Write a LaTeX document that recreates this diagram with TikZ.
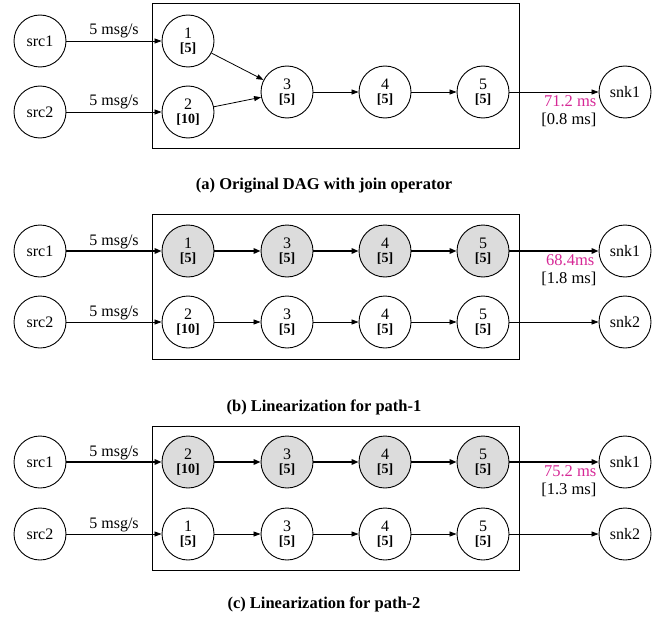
\documentclass[tikz,border=0pt]{standalone}
\usepackage{fontspec}
\setmainfont{Liberation Serif}
\usetikzlibrary{arrows.meta}
\definecolor{latpink}{RGB}{214,40,150}
\definecolor{hotgray}{RGB}{220,220,220}
\newcommand{\opl}[2]{#1\\{\fontsize{14}{14}\selectfont\bfseries [#2]}}
\begin{document}
\begin{tikzpicture}[x=1pt,y=-1pt,
 every node/.style={inner sep=0pt},
 circ/.style={circle,draw,line width=0.9pt,minimum size=52pt,font=\fontsize{16}{13.5}\selectfont,align=center},
 hot/.style={fill=hotgray},
 tedge/.style={line width=0.8pt,-{Triangle[length=7pt,width=5pt]}},
 kedge/.style={line width=1.6pt,-{Triangle[length=7pt,width=5.5pt]}},
 rate/.style={font=\fontsize{16}{16}\selectfont,anchor=base},
 lat/.style={font=\fontsize{16.5}{16.5}\selectfont,anchor=base east},
 frame/.style={draw,line width=0.9pt},
 captext/.style={font=\fontsize{16.5}{16.5}\selectfont\bfseries}
]
\useasboundingbox (0,0) rectangle (668,623);

% ---------- (a)
\draw[frame] (152,3) rectangle (519,148);
\node[circ] (as1) at (40,41) {src1};
\node[circ] (as2) at (40,112) {src2};
\node[circ] (a1) at (188,41) {\opl{1}{5}};
\node[circ] (a2) at (188,112) {\opl{2}{10}};
\node[circ] (a3) at (287,92) {\opl{3}{5}};
\node[circ] (a4) at (385,92) {\opl{4}{5}};
\node[circ] (a5) at (483,92) {\opl{5}{5}};
\node[circ] (ak1) at (625,92) {snk1};
\draw[tedge] (as1) -- (a1);
\draw[tedge] (as2) -- (a2);
\draw[tedge] (a1) -- (a3);
\draw[tedge] (a2) -- (a3);
\draw[tedge] (a3) -- (a4);
\draw[tedge] (a4) -- (a5);
\draw[tedge] (a5) -- (ak1);
\node[rate] (ar1) at (114,35) {5 msg/s};
\node[rate] (ar2) at (114,106) {5 msg/s};
\node[lat,text=latpink] (al1) at ([shift={(-2,14.5)}]ak1.west) {71.2 ms};
\node[lat] (al2) at ([shift={(-2,32)}]ak1.west) {[0.8 ms]};
\node[captext] (capa) at (324,186) {(a) Original DAG with join operator};

% ---------- (b)
\draw[frame] (152,214) rectangle (519,359);
\node[circ] (bs1) at (40,251) {src1};
\node[circ] (bs2) at (40,322) {src2};
\node[circ,hot] (b1) at (188,251) {\opl{1}{5}};
\node[circ,hot] (b3) at (287,251) {\opl{3}{5}};
\node[circ,hot] (b4) at (385,251) {\opl{4}{5}};
\node[circ,hot] (b5) at (483,251) {\opl{5}{5}};
\node[circ] (bk1) at (625,251) {snk1};
\node[circ] (b2) at (188,322) {\opl{2}{10}};
\node[circ] (b3b) at (287,322) {\opl{3}{5}};
\node[circ] (b4b) at (385,322) {\opl{4}{5}};
\node[circ] (b5b) at (483,322) {\opl{5}{5}};
\node[circ] (bk2) at (625,322) {snk2};
\draw[kedge] (bs1) -- (b1);
\draw[kedge] (b1) -- (b3);
\draw[kedge] (b3) -- (b4);
\draw[kedge] (b4) -- (b5);
\draw[kedge] (b5) -- (bk1);
\draw[tedge] (bs2) -- (b2);
\draw[tedge] (b2) -- (b3b);
\draw[tedge] (b3b) -- (b4b);
\draw[tedge] (b4b) -- (b5b);
\draw[tedge] (b5b) -- (bk2);
\node[rate] (br1) at (114,245) {5 msg/s};
\node[rate] (br2) at (114,316) {5 msg/s};
\node[lat,text=latpink] (bl1) at ([shift={(-4,14.5)}]bk1.west) {68.4ms};
\node[lat] (bl2) at ([shift={(-2,32)}]bk1.west) {[1.8 ms]};
\node[captext] (capb) at (324,407) {(b) Linearization for path-1};

% ---------- (c)
\draw[frame] (152,426) rectangle (519,570);
\node[circ] (cs1) at (40,462) {src1};
\node[circ] (cs2) at (40,534) {src2};
\node[circ,hot] (c2) at (188,462) {\opl{2}{10}};
\node[circ,hot] (c3) at (287,462) {\opl{3}{5}};
\node[circ,hot] (c4) at (385,462) {\opl{4}{5}};
\node[circ,hot] (c5) at (483,462) {\opl{5}{5}};
\node[circ] (ck1) at (625,462) {snk1};
\node[circ] (c1) at (188,534) {\opl{1}{5}};
\node[circ] (c3b) at (287,534) {\opl{3}{5}};
\node[circ] (c4b) at (385,534) {\opl{4}{5}};
\node[circ] (c5b) at (483,534) {\opl{5}{5}};
\node[circ] (ck2) at (625,534) {snk2};
\draw[kedge] (cs1) -- (c2);
\draw[kedge] (c2) -- (c3);
\draw[kedge] (c3) -- (c4);
\draw[kedge] (c4) -- (c5);
\draw[kedge] (c5) -- (ck1);
\draw[tedge] (cs2) -- (c1);
\draw[tedge] (c1) -- (c3b);
\draw[tedge] (c3b) -- (c4b);
\draw[tedge] (c4b) -- (c5b);
\draw[tedge] (c5b) -- (ck2);
\node[rate] (cr1) at (114,456) {5 msg/s};
\node[rate] (cr2) at (114,528) {5 msg/s};
\node[lat,text=latpink] (cl1) at ([shift={(-2,14.5)}]ck1.west) {75.2 ms};
\node[lat] (cl2) at ([shift={(-2,32)}]ck1.west) {[1.3 ms]};
\node[captext] (capc) at (324,604) {(c) Linearization for path-2};
\end{tikzpicture}
\end{document}
